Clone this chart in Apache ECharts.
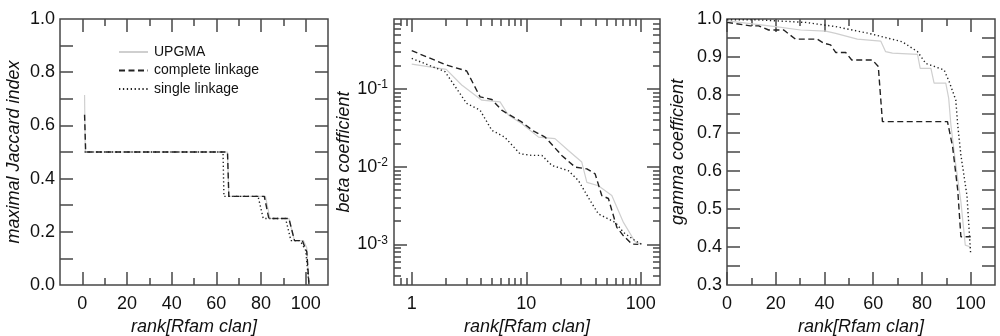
<!DOCTYPE html>
<html><head><meta charset="utf-8">
<script src="https://cdn.jsdelivr.net/npm/echarts@6/dist/echarts.min.js"></script>
<style>html,body{margin:0;padding:0;background:#fff}#c{width:1000px;height:336px}</style>
</head><body><div id="c"></div>
<script>
// ---------- data ----------
const seriesNames = ['UPGMA', 'complete linkage', 'single linkage'];

// panel 1: maximal Jaccard index vs rank
const jaccardUPGMA = [[1,0.714],[1.3,0.5],[65,0.5],[65.6,0.333],[82,0.333],[84,0.25],[92.5,0.25],[95,0.167],[99,0.167],[100.5,0.14],[101.5,0]];
const jaccardComplete = [[1,0.64],[1.5,0.5],[65,0.5],[65.6,0.333],[81.5,0.333],[83.5,0.25],[92.5,0.25],[95,0.167],[98.5,0.167],[100.5,0.125],[101.5,0]];
const jaccardSingle = [[1,0.5],[63,0.5],[63.4,0.333],[78.7,0.333],[81,0.25],[91,0.25],[93.4,0.167],[97.5,0.167],[100,0.13],[101.5,0]];

// panel 2: beta coefficient vs rank (log-log)
const betaUPGMA = [[1,0.21],[2,0.18],[2.73,0.113],[4.09,0.072],[5.9,0.0685],[7,0.046],[9.1,0.036],[12.8,0.0241],[17.8,0.023],[23.3,0.0162],[30.5,0.0115],[33.8,0.0063],[42.6,0.0057],[55.8,0.00426],[70.5,0.00192],[89,0.00108],[102,0.001]];
const betaComplete = [[1,0.313],[2,0.205],[3.02,0.171],[3.95,0.0795],[5,0.0736],[6.1,0.0535],[9.1,0.0378],[11.5,0.0289],[14.6,0.0241],[20.4,0.014],[26.7,0.0099],[33.8,0.0094],[39.9,0.0081],[45.6,0.00426],[52.1,0.0039],[61.7,0.00166],[70.5,0.00129],[83.4,0.00101],[95,0.001]];
const betaSingle = [[1,0.249],[1.95,0.168],[3.02,0.0653],[3.95,0.0535],[5,0.0295],[6.5,0.024],[8.8,0.0147],[11.2,0.014],[13.7,0.014],[16.7,0.0104],[23.3,0.0089],[28.5,0.00665],[36.1,0.00367],[42.6,0.00247],[59.7,0.00192],[70.5,0.00143],[89,0.00112],[102,0.001]];

// panel 3: gamma coefficient vs rank
const gammaUPGMA = [[0,0.995],[19.9,0.98],[30.2,0.971],[40.5,0.968],[44.6,0.962],[53.5,0.947],[63.1,0.942],[65.1,0.914],[67.9,0.91],[78.2,0.907],[79.3,0.87],[83.7,0.87],[85,0.831],[89.8,0.831],[91,0.791],[91.9,0.721],[93.9,0.616],[96,0.519],[97.8,0.405],[100,0.4]];
const gammaComplete = [[0,0.991],[9.6,0.982],[13,0.982],[17.1,0.971],[23.3,0.971],[28.1,0.947],[37,0.947],[39.8,0.936],[42.5,0.932],[44.6,0.912],[48.7,0.912],[51.2,0.892],[59.7,0.892],[62.1,0.875],[63.8,0.73],[90.5,0.73],[92.6,0.664],[94.7,0.55],[96,0.427],[100,0.427]];
const gammaSingle = [[0,0.998],[12,0.998],[32.2,0.991],[44.6,0.98],[58.3,0.962],[72,0.94],[78.2,0.914],[81.6,0.883],[89.1,0.866],[91.2,0.835],[93.9,0.787],[94.7,0.721],[96,0.642],[98.5,0.535],[100,0.383]];

// ---------- tick labels / tick positions ----------
const p1xLabels = [0,20,40,60,80,100];
const p1xMinor = [10,30,50,70,90];
const p1yLabels = [0,0.2,0.4,0.6,0.8,1.0];
const p1yTicks = [0.1,0.2,0.3,0.4,0.5,0.6,0.7,0.8,0.9];

const p2xLabels = [1,10,100];
const p2xMinor = [0.8,0.9,2,3,4,5,6,7,8,9,20,30,40,50,60,70,80,90];
const p2yLabels = [0.001,0.01,0.1];
const p2yMinor = [0.0004,0.0005,0.0006,0.0007,0.0008,0.0009,0.002,0.003,0.004,0.005,0.006,0.007,0.008,0.009,0.02,0.03,0.04,0.05,0.06,0.07,0.08,0.09,0.2,0.3,0.4,0.5,0.6,0.7];

const p3xLabels = [0,20,40,60,80,100];
const p3xMinor = [10,30,50,70,90];
const p3yLabels = [0.3,0.4,0.5,0.6,0.7,0.8,0.9,1.0];
const p3yTicks = [0.35,0.4,0.45,0.5,0.55,0.6,0.65,0.7,0.75,0.8,0.85,0.9,0.95];

const xTitle = 'rank[Rfam clan]';
const yTitles = ['maximal Jaccard index', 'beta coefficient', 'gamma coefficient'];

// ---------- styling ----------
const F = "'Liberation Sans', Arial, Helvetica, sans-serif";
const AXC = '#474747';
const TXT = '#111';
const MAJ = 13, MIN = 7;

const xAxes = [], yAxes = [];
function axis(list, g, pos, type, min, max, ticks, len, extra) {
  const o = {
    gridIndex: g, type: type, position: pos, min: min, max: max,
    axisLine: {show: false, onZero: false},
    splitLine: {show: false},
    minorTick: {show: false},
    axisTick: {show: true, inside: true, length: len, customValues: ticks,
      lineStyle: {color: AXC, width: 1.5}},
    axisLabel: {show: false}
  };
  if (type === 'log') o.logBase = 10;
  if (extra) Object.assign(o, extra);
  list.push(o);
  return list.length - 1;
}
function nameStyle() {
  return {fontSize: 18, fontStyle: 'italic', color: TXT, fontFamily: F};
}
function labelX(vals, fmt) {
  return {show: true, customValues: vals, formatter: fmt, margin: 10,
    fontSize: 18, color: TXT, fontFamily: F};
}
function labelY(vals, fmt, margin, rich) {
  const o = {show: true, customValues: vals, formatter: fmt, margin: margin,
    fontSize: 18, color: TXT, fontFamily: F};
  if (rich) o.rich = rich;
  return o;
}
const xNameOpts = {name: xTitle, nameLocation: 'middle', nameGap: 25, nameTextStyle: nameStyle()};
function yNameOpts(i, gap) {
  return {name: yTitles[i], nameLocation: 'middle', nameRotate: 90, nameGap: gap, nameTextStyle: nameStyle()};
}
const intFmt = v => String(Math.round(v));
const dec1 = v => Number(v).toFixed(1);
const powFmt = v => '{a|10}{b|' + Math.round(Math.log10(v)) + '}';
const powRich = {
  a: {fontSize: 18, color: TXT, fontFamily: F, lineHeight: 20},
  b: {fontSize: 12, color: TXT, fontFamily: F, verticalAlign: 'top', lineHeight: 12}
};

const grids = [
  {left: 60, top: 19, width: 268, height: 266},
  {left: 394, top: 19, width: 266, height: 266},
  {left: 727, top: 19, width: 268, height: 266}
].map(g => Object.assign(g, {show: true, borderColor: AXC, borderWidth: 1.5,
  backgroundColor: 'transparent', containLabel: false, outerBoundsMode: 'none'}));

// panel 1 axes
const x1 = axis(xAxes, 0, 'bottom', 'value', -10, 110, p1xLabels, MAJ,
  Object.assign({axisLabel: labelX(p1xLabels, intFmt)}, xNameOpts));
axis(xAxes, 0, 'bottom', 'value', -10, 110, p1xMinor, MIN);
axis(xAxes, 0, 'top', 'value', -10, 110, p1xLabels, MAJ);
axis(xAxes, 0, 'top', 'value', -10, 110, p1xMinor, MIN);
const y1 = axis(yAxes, 0, 'left', 'value', 0, 1, p1yTicks, MAJ,
  Object.assign({axisLabel: labelY(p1yLabels, dec1, 5)}, yNameOpts(0, 37)));
axis(yAxes, 0, 'right', 'value', 0, 1, p1yTicks, MAJ);

// panel 2 axes (log-log)
const x2 = axis(xAxes, 1, 'bottom', 'log', 0.7, 147, p2xLabels, MAJ,
  Object.assign({axisLabel: labelX(p2xLabels, intFmt)}, xNameOpts));
axis(xAxes, 1, 'bottom', 'log', 0.7, 147, p2xMinor, MIN);
axis(xAxes, 1, 'top', 'log', 0.7, 147, p2xLabels, MAJ);
axis(xAxes, 1, 'top', 'log', 0.7, 147, p2xMinor, MIN);
const y2 = axis(yAxes, 1, 'left', 'log', 0.0003, 0.8, p2yLabels, MAJ,
  Object.assign({axisLabel: labelY(p2yLabels, powFmt, 6, powRich)}, yNameOpts(1, 40)));
axis(yAxes, 1, 'left', 'log', 0.0003, 0.8, p2yMinor, MIN);
axis(yAxes, 1, 'right', 'log', 0.0003, 0.8, p2yLabels, MAJ);
axis(yAxes, 1, 'right', 'log', 0.0003, 0.8, p2yMinor, MIN);

// panel 3 axes
const x3 = axis(xAxes, 2, 'bottom', 'value', 0, 110, p3xLabels, MAJ,
  Object.assign({axisLabel: labelX(p3xLabels, intFmt)}, xNameOpts));
axis(xAxes, 2, 'bottom', 'value', 0, 110, p3xMinor, MIN);
axis(xAxes, 2, 'top', 'value', 0, 110, p3xLabels, MAJ);
axis(xAxes, 2, 'top', 'value', 0, 110, p3xMinor, MIN);
const y3 = axis(yAxes, 2, 'left', 'value', 0.3, 1.0, p3yTicks, MAJ,
  Object.assign({axisLabel: labelY(p3yLabels, dec1, 5)}, yNameOpts(2, 40)));
axis(yAxes, 2, 'right', 'value', 0.3, 1.0, p3yTicks, MAJ);

const styles = [
  {color: '#cfcfcf', width: 1.2, type: 'solid'},
  {color: '#222', width: 1.4, type: [6, 3.5]},
  {color: '#222', width: 1.4, type: [1.3, 2.6]}
];
const panels = [
  {x: x1, y: y1, data: [jaccardUPGMA, jaccardComplete, jaccardSingle]},
  {x: x2, y: y2, data: [betaUPGMA, betaComplete, betaSingle]},
  {x: x3, y: y3, data: [gammaUPGMA, gammaComplete, gammaSingle]}
];
const series = [];
panels.forEach(p => {
  p.data.forEach((d, i) => {
    series.push({
      type: 'line', name: seriesNames[i], xAxisIndex: p.x, yAxisIndex: p.y,
      data: d, symbol: 'none', showSymbol: false, smooth: false,
      lineStyle: Object.assign({}, styles[i]), itemStyle: {color: styles[i].color},
      silent: true, z: i === 0 ? 2 : 3
    });
  });
});

const chart = echarts.init(document.getElementById('c'), null, {renderer: 'canvas'});
chart.setOption({
  animation: false,
  backgroundColor: '#fff',
  grid: grids,
  xAxis: xAxes,
  yAxis: yAxes,
  legend: {
    data: seriesNames, orient: 'vertical', left: 113, top: 40,
    itemWidth: 29, itemHeight: 12, itemGap: 4.5, selectedMode: false,
    itemStyle: {opacity: 0, borderWidth: 0},
    textStyle: {fontSize: 14, color: TXT, fontFamily: F, padding: [0, 0, 0, 1]}
  },
  series: series
});
</script></body></html>
